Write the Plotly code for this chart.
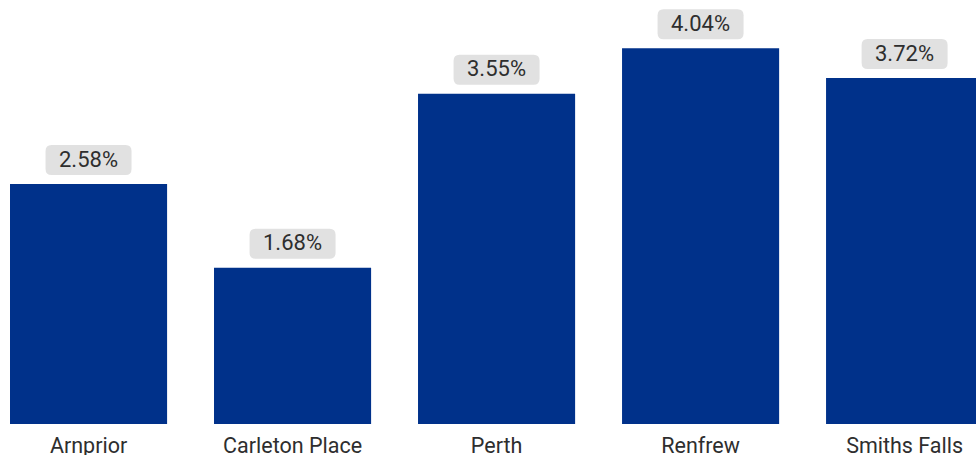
import plotly.graph_objects as go

# Share by town (%)
towns = ["Arnprior", "Carleton Place", "Perth", "Renfrew", "Smiths Falls"]
shares = [2.58, 1.68, 3.55, 4.04, 3.72]
value_labels = ["2.58%", "1.68%", "3.55%", "4.04%", "3.72%"]

BAR_COLOR = "#00318a"
BOX_COLOR = "#e1e1e1"
TEXT_COLOR = "#2e2e2e"
FONT = "Roboto, Arial, sans-serif"

fig = go.Figure(
    go.Bar(
        x=list(range(len(towns))),
        y=shares,
        marker=dict(color=BAR_COLOR, line=dict(width=0)),
        hoverinfo="skip",
    )
)


def rounded_box(w, h, r, gap):
    """Rounded rectangle path in pixels, centred horizontally, starting `gap` px above the anchor."""
    x0, x1 = -w / 2, w / 2
    y0, y1 = gap, gap + h
    return (
        f"M {x0 + r},{y0} L {x1 - r},{y0} Q {x1},{y0} {x1},{y0 + r} "
        f"L {x1},{y1 - r} Q {x1},{y1} {x1 - r},{y1} "
        f"L {x0 + r},{y1} Q {x0},{y1} {x0},{y1 - r} "
        f"L {x0},{y0 + r} Q {x0},{y0} {x0 + r},{y0} Z"
    )


box_path = rounded_box(86, 30, 6, 9)
for i, (v, lab) in enumerate(zip(shares, value_labels)):
    fig.add_shape(
        type="path",
        xref="x", yref="y",
        xsizemode="pixel", ysizemode="pixel",
        xanchor=i, yanchor=v,
        path=box_path,
        fillcolor=BOX_COLOR,
        line=dict(width=0),
        layer="above",
    )
    fig.add_annotation(
        x=i, y=v, xref="x", yref="y",
        text=lab, showarrow=False,
        yanchor="middle", yshift=25,
        font=dict(family=FONT, size=22, color=TEXT_COLOR),
    )

fig.update_layout(
    width=976, height=455,
    margin=dict(l=0, r=0, t=0, b=31),
    paper_bgcolor="white", plot_bgcolor="white",
    bargap=0.23,
    showlegend=False,
    xaxis=dict(
        range=[-0.434, 4.35],
        tickmode="array",
        tickvals=list(range(len(towns))),
        ticktext=towns,
        showgrid=False, zeroline=False, showline=False,
        ticks="", ticklabelstandoff=6,
        automargin=False,
        tickfont=dict(family=FONT, size=21.5, color=TEXT_COLOR),
        fixedrange=True,
    ),
    yaxis=dict(
        range=[0, 424 / 93],
        visible=False,
        automargin=False,
        fixedrange=True,
    ),
)

fig.write_html("out.html")
